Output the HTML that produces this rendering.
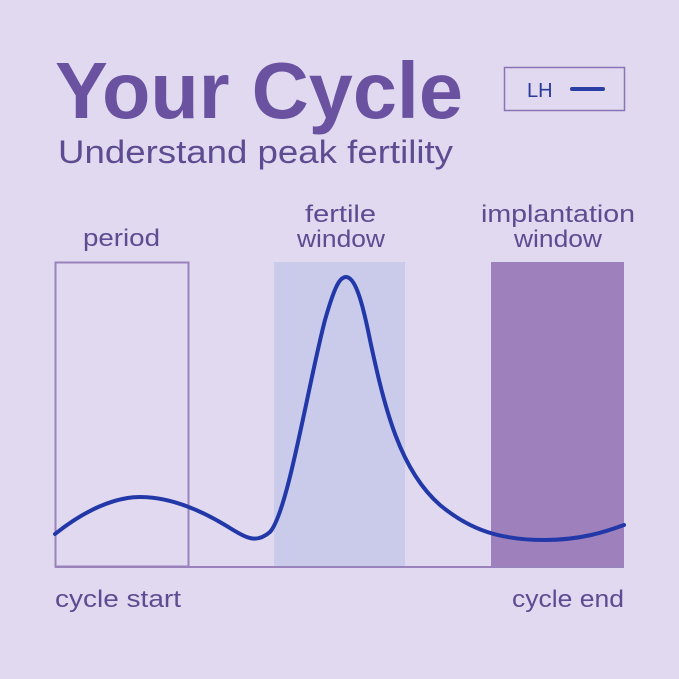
<!DOCTYPE html>
<html><head><style>
html,body{margin:0;padding:0;}
body{width:679px;height:679px;background:#e0d9ef;overflow:hidden;position:relative;font-family:"Liberation Sans",sans-serif;}
</style></head><body>
<svg width="679" height="679" viewBox="0 0 679 679" xmlns="http://www.w3.org/2000/svg" style="position:absolute;left:0;top:0">
<rect width="679" height="679" fill="#e0d9ef"/>
<text x="55" y="118" font-family="Liberation Sans, sans-serif" font-weight="bold" font-size="80" fill="#6a52a1" textLength="408" lengthAdjust="spacingAndGlyphs">Your Cycle</text>
<text x="58" y="163" font-family="Liberation Sans, sans-serif" font-size="32" fill="#5e4b91" textLength="395" lengthAdjust="spacingAndGlyphs">Understand peak fertility</text>
<rect x="504.5" y="67.5" width="120" height="43" fill="none" stroke="#8b74b5" stroke-width="1.5"/>
<text x="527" y="97" font-family="Liberation Sans, sans-serif" font-size="20" fill="#2a3a9a">LH</text>
<line x1="572" y1="89" x2="603" y2="89" stroke="#2a3fa5" stroke-width="4" stroke-linecap="round"/>
<text x="83" y="246" font-size="24" fill="#5e4b91" font-family="Liberation Sans, sans-serif" textLength="77" lengthAdjust="spacingAndGlyphs">period</text>
<text x="305" y="222" font-size="24" fill="#5e4b91" font-family="Liberation Sans, sans-serif" textLength="71" lengthAdjust="spacingAndGlyphs">fertile</text>
<text x="297" y="247" font-size="24" fill="#5e4b91" font-family="Liberation Sans, sans-serif" textLength="88" lengthAdjust="spacingAndGlyphs">window</text>
<text x="481" y="222" font-size="24" fill="#5e4b91" font-family="Liberation Sans, sans-serif" textLength="154" lengthAdjust="spacingAndGlyphs">implantation</text>
<text x="514" y="247" font-size="24" fill="#5e4b91" font-family="Liberation Sans, sans-serif" textLength="88" lengthAdjust="spacingAndGlyphs">window</text>
<rect x="274" y="262" width="131" height="305" fill="#cacbeb"/>
<rect x="491" y="262" width="133" height="305" fill="#9e81bc"/>
<rect x="55.5" y="262.5" width="133" height="304" fill="none" stroke="#9a82bd" stroke-width="2"/>
<line x1="55" y1="567" x2="624" y2="567" stroke="#9a82bd" stroke-width="2"/>
<path d="M55,534 C85,510 115,497 140,497 C170,497 200,510 225,525 C245,537 255,545 270,532 C288,512 308,385 325,320 C335,285 340,277 346,277 C355,277 362,300 370,340 C385,410 400,470 440,505 C470,530 500,540 545,540 C580,540 605,532 624,525" fill="none" stroke="#2238a8" stroke-width="4" stroke-linecap="round"/>
<text x="55" y="607" font-size="24" fill="#5e4b91" font-family="Liberation Sans, sans-serif" textLength="126" lengthAdjust="spacingAndGlyphs">cycle start</text>
<text x="512" y="607" font-size="24" fill="#5e4b91" font-family="Liberation Sans, sans-serif" textLength="112" lengthAdjust="spacingAndGlyphs">cycle end</text>
</svg>
</body></html>
